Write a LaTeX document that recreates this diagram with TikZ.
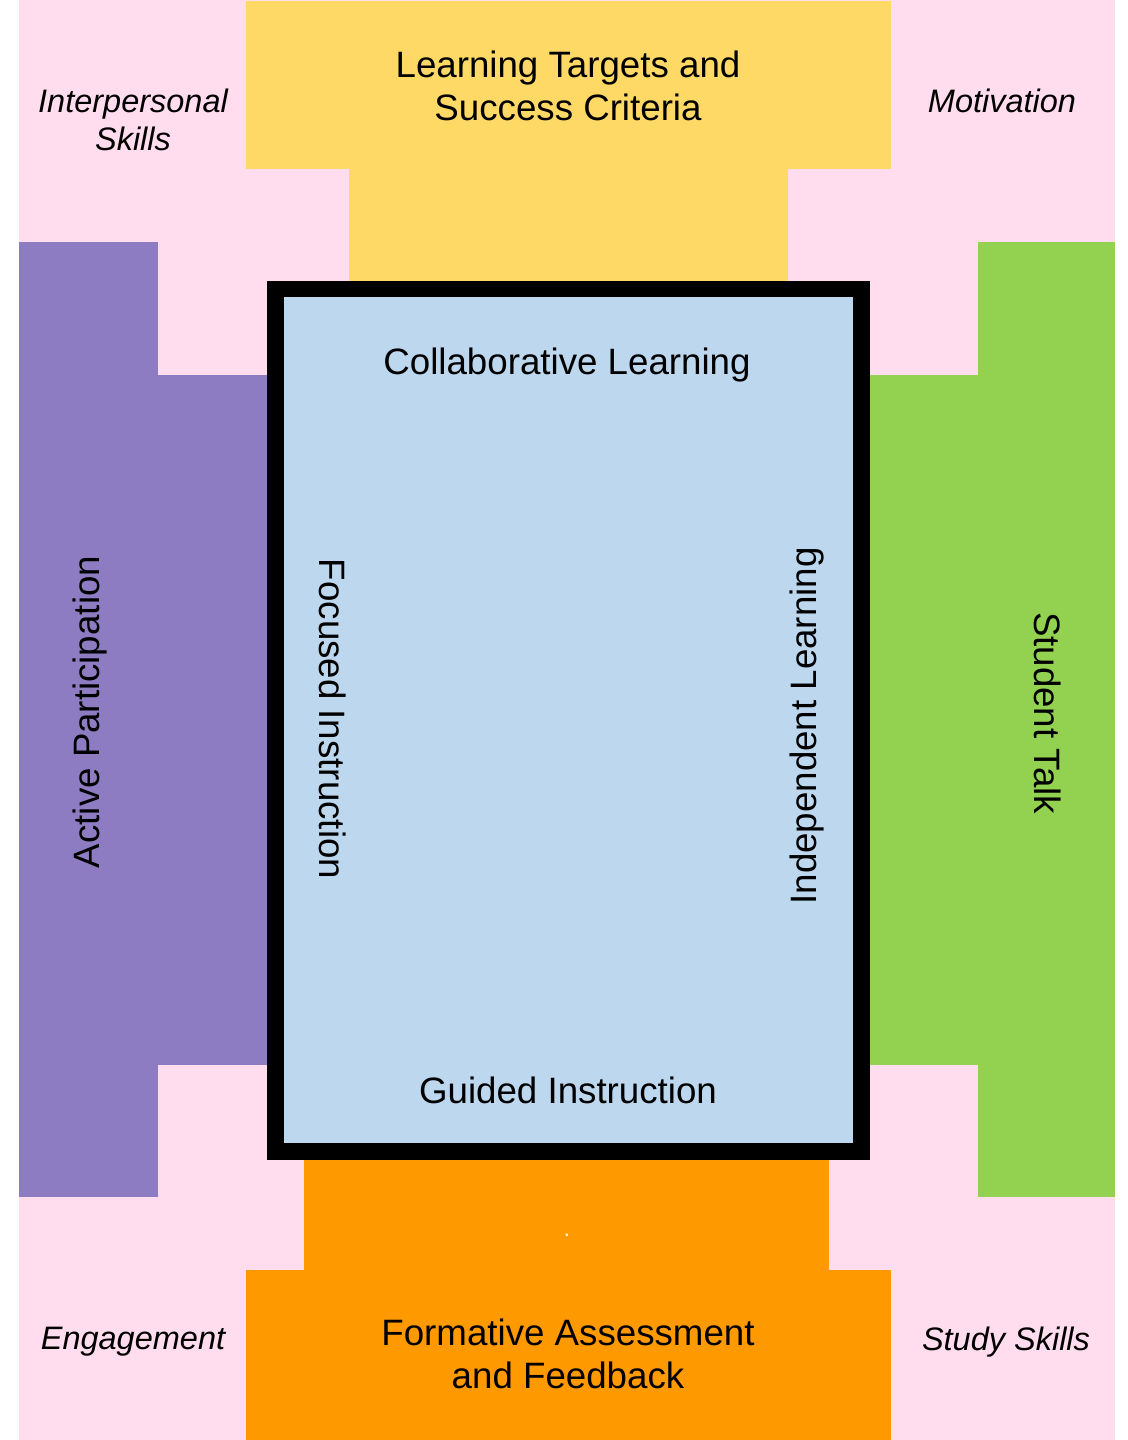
\documentclass[tikz,border=0pt]{standalone}
\usepackage{fontspec}
\setmainfont{Liberation Sans}
\definecolor{pinkbg}{HTML}{FFDDEE}
\definecolor{yel}{HTML}{FFD966}
\definecolor{pur}{HTML}{8E7CC3}
\definecolor{grn}{HTML}{93D150}
\definecolor{org}{HTML}{FF9900}
\definecolor{lblue}{HTML}{BDD7EE}
\begin{document}
\begin{tikzpicture}[x=1pt,y=-1pt,
  big/.style={font=\fontsize{36.7}{43}\selectfont, align=center, inner sep=0pt},
  side/.style={font=\fontsize{32.5}{38}\selectfont\itshape, align=center, inner sep=0pt}]
\useasboundingbox (0,0) rectangle (1127,1440);
% background
\fill[pinkbg] (19,0) rectangle (1115,1440);
% top yellow
\fill[yel] (246,1) rectangle (891,169);
\fill[yel] (349,168) rectangle (788,282);
% left purple
\fill[pur] (19,242) rectangle (158,1197);
\fill[pur] (157,375) rectangle (268,1065);
% right green
\fill[grn] (978,242) rectangle (1115,1197);
\fill[grn] (869,375) rectangle (979,1065);
% bottom orange
\fill[org] (304,1159) rectangle (829,1271);
\fill[org] (246,1270) rectangle (891,1440);
% center box
\fill[black] (267,281) rectangle (870,1160);
\fill[lblue] (284,297) rectangle (853,1143);
% texts
\node[big] (ltsc) at (568,86) {Learning Targets and\\Success Criteria};
\node[big] (fa) at (568,1354) {Formative Assessment\\and Feedback};
\node[big] (cl) at (567,365) {Collaborative Learning};
\node[big] (gi) at (568,1090) {Guided Instruction};
\node[big, rotate=90] (ap) at (90,712) {Active Participation};
\node[big, rotate=-90] (fi) at (333,719) {Focused Instruction};
\node[big, rotate=90] (il) at (807,726) {Independent Learning};
\node[big, rotate=-90] (st) at (1048,713) {Student Talk};
\node[side] (is) at (133,120) {Interpersonal\\Skills};
\node[side] (mo) at (1002,101) {Motivation};
\node[side] (en) at (133,1342) {Engagement};
\node[side] (ss) at (1006,1342) {Study Skills};
\node[text=white, font=\fontsize{22}{22}\selectfont, inner sep=0pt] (dot) at (567,1235) {.};
\end{tikzpicture}
\end{document}
